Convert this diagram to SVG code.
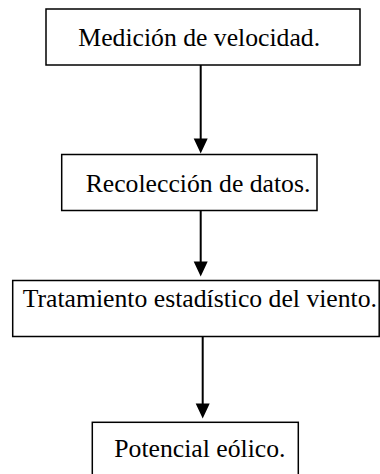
<svg xmlns="http://www.w3.org/2000/svg" width="380" height="474" viewBox="0 0 380 474">
<style>
.box{fill:#fff;stroke:#000;stroke-width:1.5}
.lbl{font-family:"Liberation Serif","Times New Roman",serif;font-size:25.7px;fill:#000}
.conn{stroke:#000;stroke-width:2;fill:none}
.head{fill:#000}
</style>
<rect width="380" height="474" fill="#fff"/>
<g id="connectors">
<line class="conn" x1="200.7" y1="65" x2="200.7" y2="140"/>
<polygon class="head" points="193.7,138.5 207.7,138.5 200.7,153.5"/>
<line class="conn" x1="200.7" y1="210.5" x2="200.7" y2="263"/>
<polygon class="head" points="193.7,261.5 207.7,261.5 200.7,276.5"/>
<line class="conn" x1="202.7" y1="336.5" x2="202.7" y2="405"/>
<polygon class="head" points="195.7,403.5 209.7,403.5 202.7,418.5"/>
</g>
<g id="n1">
<rect class="box" x="46" y="9" width="314" height="56"/>
<text class="lbl" x="78.3" y="45.7">Medición de velocidad.</text>
</g>
<g id="n2">
<rect class="box" x="61.7" y="154.5" width="255.3" height="56"/>
<text class="lbl" x="85.7" y="191.7">Recolección de datos.</text>
</g>
<g id="n3">
<rect class="box" x="12.7" y="280.5" width="366.5" height="56"/>
<text class="lbl" x="22.7" y="307">Tratamiento estadístico del viento.</text>
</g>
<g id="n4">
<rect class="box" x="92.3" y="422.3" width="206" height="70"/>
<text class="lbl" x="114.3" y="456.7">Potencial eólico.</text>
</g>
</svg>
